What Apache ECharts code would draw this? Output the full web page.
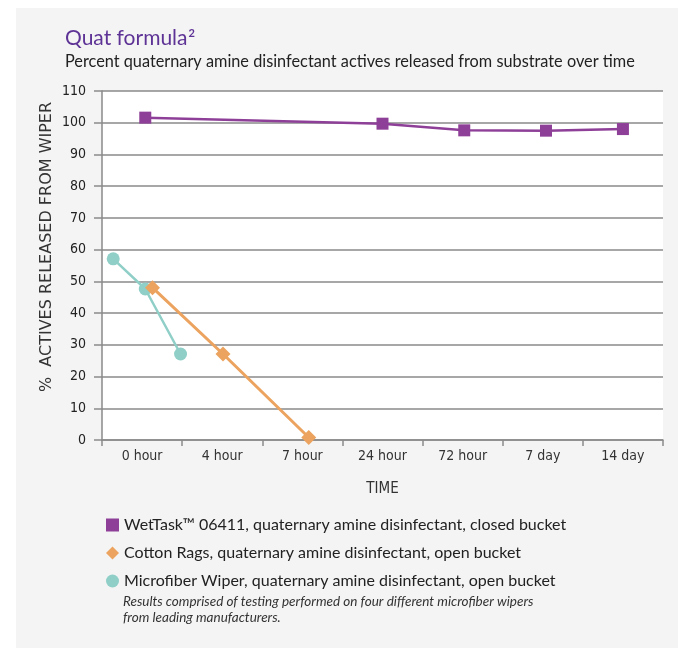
<!DOCTYPE html>
<html>
<head>
<meta charset="utf-8">
<script src="https://cdn.jsdelivr.net/npm/echarts@6/dist/echarts.min.js"></script>
<style>
html,body{margin:0;padding:0;background:#fff;}
#c{width:678px;height:648px;}
</style>
</head>
<body>
<div id="c"></div>
<script>
// ---- data ----
var categories = ['0 hour', '4 hour', '7 hour', '24 hour', '72 hour', '7 day', '14 day'];
var yTicks = [0, 10, 20, 30, 40, 50, 60, 70, 80, 90, 100, 110];
// x positions in category units (0..7 spans the seven bands), y = percent released
var wetTaskX = [0.54, 3.5, 4.52, 5.54, 6.5];
var wetTaskY = [101.6, 99.7, 97.6, 97.5, 98.0];
var cottonX = [0.63, 1.51, 2.58];
var cottonY = [48.0, 27.1, 0.8];
var microX = [0.14, 0.54, 0.98];
var microY = [57.1, 47.6, 27.1];

var names = [
  'WetTask\u2122 06411, quaternary amine disinfectant, closed bucket',
  'Cotton Rags, quaternary amine disinfectant, open bucket',
  'Microfiber Wiper, quaternary amine disinfectant, open bucket'
];
var colors = ['#8e3f98', '#eba35f', '#8fcfc7'];

function pairs(xs, ys) { return xs.map(function (x, i) { return [x, ys[i]]; }); }

var labelFont = '"Liberation Sans Narrow", "DejaVu Sans Condensed", Roboto, sans-serif';
var textFont = 'Lato, "Noto Sans", sans-serif';

var chart = echarts.init(document.getElementById('c'), null, {renderer: 'canvas'});
chart.setOption({
  animation: false,
  backgroundColor: '#ffffff',
  graphic: [
    {type: 'rect', left: 16, top: 8, z: -10, shape: {width: 662, height: 640}, style: {fill: '#f4f4f4'}},
    {type: 'text', left: 123, top: 594, style: {
      text: 'Results comprised of testing performed on four different microfiber wipers\nfrom leading manufacturers.',
      font: 'italic 13.5px ' + textFont, fill: '#333', lineHeight: 15.5}},
    {type: 'text', x: 47, y: 247, rotation: Math.PI / 2, z: 10, style: {
      text: '%  ACTIVES RELEASED FROM WIPER', fontSize: 16, fontFamily: 'DejaVu Sans', fill: '#333',
      align: 'center', verticalAlign: 'middle'}}
  ],
  title: {
    left: 60, top: 23,
    text: '{a|Quat formula}{s|2}',
    textStyle: {
      rich: {
        a: {fontSize: 21, fontFamily: textFont, color: '#5e3396', fontWeight: 'normal'},
        s: {fontSize: 11, fontFamily: textFont, color: '#5e3396', verticalAlign: 'top', padding: [0, 0, 10, 1]}
      }
    },
    subtext: 'Percent quaternary amine disinfectant actives released from substrate over time',
    subtextStyle: {fontSize: 16.3, fontFamily: textFont, color: '#222'},
    itemGap: 5
  },
  legend: {
    orient: 'vertical', left: 101, top: 512,
    itemWidth: 13, itemHeight: 13, itemGap: 12,
    data: [
      {name: names[0], icon: 'rect'},
      {name: names[1], icon: 'diamond'},
      {name: names[2], icon: 'circle'}
    ],
    textStyle: {fontSize: 16, fontFamily: textFont, color: '#222'}
  },
  grid: {left: 102, right: 15, top: 91, bottom: 208, show: true, backgroundColor: '#ffffff', borderWidth: 0},
  xAxis: [
    {
      type: 'category', data: categories, boundaryGap: true, position: 'bottom',
      name: 'TIME', nameLocation: 'middle', nameGap: 42,
      nameTextStyle: {fontSize: 15, fontFamily: labelFont, color: '#333'},
      axisLine: {show: true, lineStyle: {color: '#8a8a8a', width: 1.5}},
      axisTick: {show: true, length: 6, alignWithLabel: false, lineStyle: {color: '#8a8a8a', width: 1.5}},
      axisLabel: {margin: 9, fontSize: 14, fontFamily: labelFont, color: '#333'},
      splitLine: {show: false}
    },
    {type: 'value', min: 0, max: 7, show: false}
  ],
  yAxis: {
    type: 'value', min: yTicks[0], max: yTicks[yTicks.length - 1], interval: 10,
    axisLine: {show: true, lineStyle: {color: '#8a8a8a', width: 1.5}},
    axisTick: {show: true, length: 8, lineStyle: {color: '#8a8a8a', width: 1.5}},
    axisLabel: {margin: 16, fontSize: 14, fontFamily: labelFont, color: '#222'},
    splitLine: {show: true, lineStyle: {color: '#8a8a8a', width: 1.5}}
  },
  series: [
    {
      name: names[0], type: 'line', xAxisIndex: 1, data: pairs(wetTaskX, wetTaskY),
      symbol: 'rect', symbolSize: 12, color: colors[0],
      lineStyle: {width: 2.5, color: colors[0]}, itemStyle: {color: colors[0]}, z: 3
    },
    {
      name: names[2], type: 'line', xAxisIndex: 1, data: pairs(microX, microY),
      symbol: 'circle', symbolSize: 13, color: colors[2],
      lineStyle: {width: 2.5, color: colors[2]}, itemStyle: {color: colors[2]}, z: 3
    },
    {
      name: names[1], type: 'line', xAxisIndex: 1, data: pairs(cottonX, cottonY),
      symbol: 'diamond', symbolSize: 15, color: colors[1],
      lineStyle: {width: 3, color: colors[1]}, itemStyle: {color: colors[1]}, z: 4
    }
  ]
});
</script>
</body>
</html>
